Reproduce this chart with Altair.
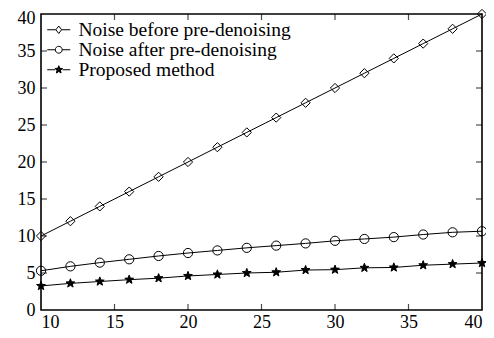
import numpy as np
import pandas as pd
import altair as alt

x_vals = [10, 12, 14, 16, 18, 20, 22, 24, 26, 28, 30, 32, 34, 36, 38, 40]
before = [10, 12, 14, 16, 18, 20, 22, 24, 26, 28, 30, 32, 34, 36, 38, 40]
after = [5.3, 5.9, 6.4, 6.85, 7.3, 7.7, 8.05, 8.4, 8.7, 9.0, 9.35, 9.6, 9.85, 10.2, 10.5, 10.65]
proposed = [3.25, 3.6, 3.85, 4.1, 4.3, 4.6, 4.8, 5.0, 5.1, 5.4, 5.45, 5.7, 5.75, 6.05, 6.2, 6.35]
series_names = ["Noise before pre-denoising", "Noise after pre-denoising", "Proposed method"]
x_ticks = [10, 15, 20, 25, 30, 35, 40]
y_ticks = [0, 5, 10, 15, 20, 25, 30, 35, 40]
x_inner_ticks = [15, 20, 25, 30, 35]
y_inner_ticks = [5, 10, 15, 20, 25, 30, 35]

FONT = "Liberation Serif"

rows = []
for name, vals in zip(series_names, [before, after, proposed]):
    for xv, yv in zip(x_vals, vals):
        rows.append({"x": xv, "y": yv, "series": name})
df = pd.DataFrame(rows)


def star_path(r_out, r_in):
    pts = []
    for i in range(10):
        ang = -np.pi / 2 + i * np.pi / 5
        r = r_out if i % 2 == 0 else r_in
        pts.append((r * np.cos(ang), r * np.sin(ang)))
    return "M" + "L".join(f"{px:.3f},{py:.3f}" for px, py in pts) + "Z"


plot_star = star_path(1.0, 0.42)
stub = "M-2,0H-{k}M{k},0H2"
legend_star = "".join(star_path(0.7 * f, 0.3 * f) for f in [1.0, 0.75, 0.5, 0.25])
legend_paths = [
    stub.format(k=0.5) + "M0,-0.65L0.5,0L0,0.65L-0.5,0Z",
    stub.format(k=0.6) + "M-0.6,0A0.6,0.6 0 1,0 0.6,0A0.6,0.6 0 1,0 -0.6,0Z",
    stub.format(k=0.65) + legend_star,
]

xs = alt.Scale(domain=[10, 40], nice=False, zero=False)
ys = alt.Scale(domain=[0, 40], nice=False)

x_axis = alt.Axis(values=x_ticks, title=None, labelPadding=3, labelOverlap=False)
y_axis = alt.Axis(values=y_ticks, title=None, labelPadding=6, labelOverlap=False,
                  labelOffset={"condition": {"test": "datum.value == 40", "value": 4}, "value": 0})

base = alt.Chart(df)

lines = base.mark_line(color="black", strokeWidth=1).encode(
    x=alt.X("x:Q", scale=xs, axis=x_axis),
    y=alt.Y("y:Q", scale=ys, axis=y_axis),
    detail="series:N",
)

points = base.mark_point(color="black", strokeWidth=1, opacity=1).encode(
    x=alt.X("x:Q", scale=xs, axis=x_axis),
    y=alt.Y("y:Q", scale=ys, axis=y_axis),
    shape=alt.Shape("series:N", scale=alt.Scale(domain=series_names, range=["diamond", "circle", plot_star]), legend=None),
    fill=alt.Fill("series:N", scale=alt.Scale(domain=series_names, range=["transparent", "transparent", "black"]), legend=None),
    size=alt.Size("series:N", scale=alt.Scale(domain=series_names, range=[85, 85, 50]), legend=None),
)

legend_df = pd.DataFrame({"series": series_names, "x": [None] * 3, "y": [None] * 3})
legend_layer = alt.Chart(legend_df).mark_point(color="black", filled=False, strokeWidth=1, opacity=1).encode(
    x=alt.X("x:Q", scale=xs, axis=x_axis),
    y=alt.Y("y:Q", scale=ys, axis=y_axis),
    shape=alt.Shape("series:N", scale=alt.Scale(domain=series_names, range=legend_paths),
                    legend=alt.Legend(title=None, orient="none", legendX=8, legendY=6,
                                      symbolSize=132, labelOffset=10, padding=0,
                                      rowPadding=-3.5, labelFont=FONT, labelFontSize=19.5,
                                      labelColor="black", symbolStrokeColor="black",
                                      symbolFillColor="transparent",
                                      symbolStrokeWidth=1, labelLimit=400)),
)

tick_b = alt.Chart(pd.DataFrame({"t": x_inner_ticks})).mark_tick(
    orient="vertical", color="black", size=6, thickness=1.2, yOffset=-3).encode(
    x=alt.X("t:Q", scale=xs, axis=x_axis), y=alt.YDatum(0, scale=ys, axis=y_axis))
tick_t = alt.Chart(pd.DataFrame({"t": x_inner_ticks})).mark_tick(
    orient="vertical", color="black", size=6, thickness=1.2, yOffset=3).encode(
    x=alt.X("t:Q", scale=xs, axis=x_axis), y=alt.YDatum(40, scale=ys, axis=y_axis))
tick_l = alt.Chart(pd.DataFrame({"t": y_inner_ticks})).mark_tick(
    orient="horizontal", color="black", size=6, thickness=1.2, xOffset=3).encode(
    y=alt.Y("t:Q", scale=ys, axis=y_axis), x=alt.XDatum(10, scale=xs, axis=x_axis))
tick_r = alt.Chart(pd.DataFrame({"t": y_inner_ticks})).mark_tick(
    orient="horizontal", color="black", size=6, thickness=1.2, xOffset=-3).encode(
    y=alt.Y("t:Q", scale=ys, axis=y_axis), x=alt.XDatum(40, scale=xs, axis=x_axis))

chart = alt.layer(lines, points, legend_layer, tick_b, tick_t, tick_l, tick_r).resolve_scale(
    shape="independent", fill="independent", size="independent"
).resolve_legend(shape="independent", fill="independent", size="independent").properties(
    width=441, height=296,
    autosize=alt.AutoSizeParams(type="none"),
    padding={"left": 33, "top": 6, "right": 4, "bottom": 20},
    background="white",
).configure_view(stroke="black", strokeWidth=1.6).configure_axis(
    ticks=False, domain=False, grid=False, labelFont=FONT, labelFontSize=18,
    labelColor="black", title=None, labelOverlap=False
)

chart.save("out.html", embed_options={"renderer": "svg", "actions": False})
